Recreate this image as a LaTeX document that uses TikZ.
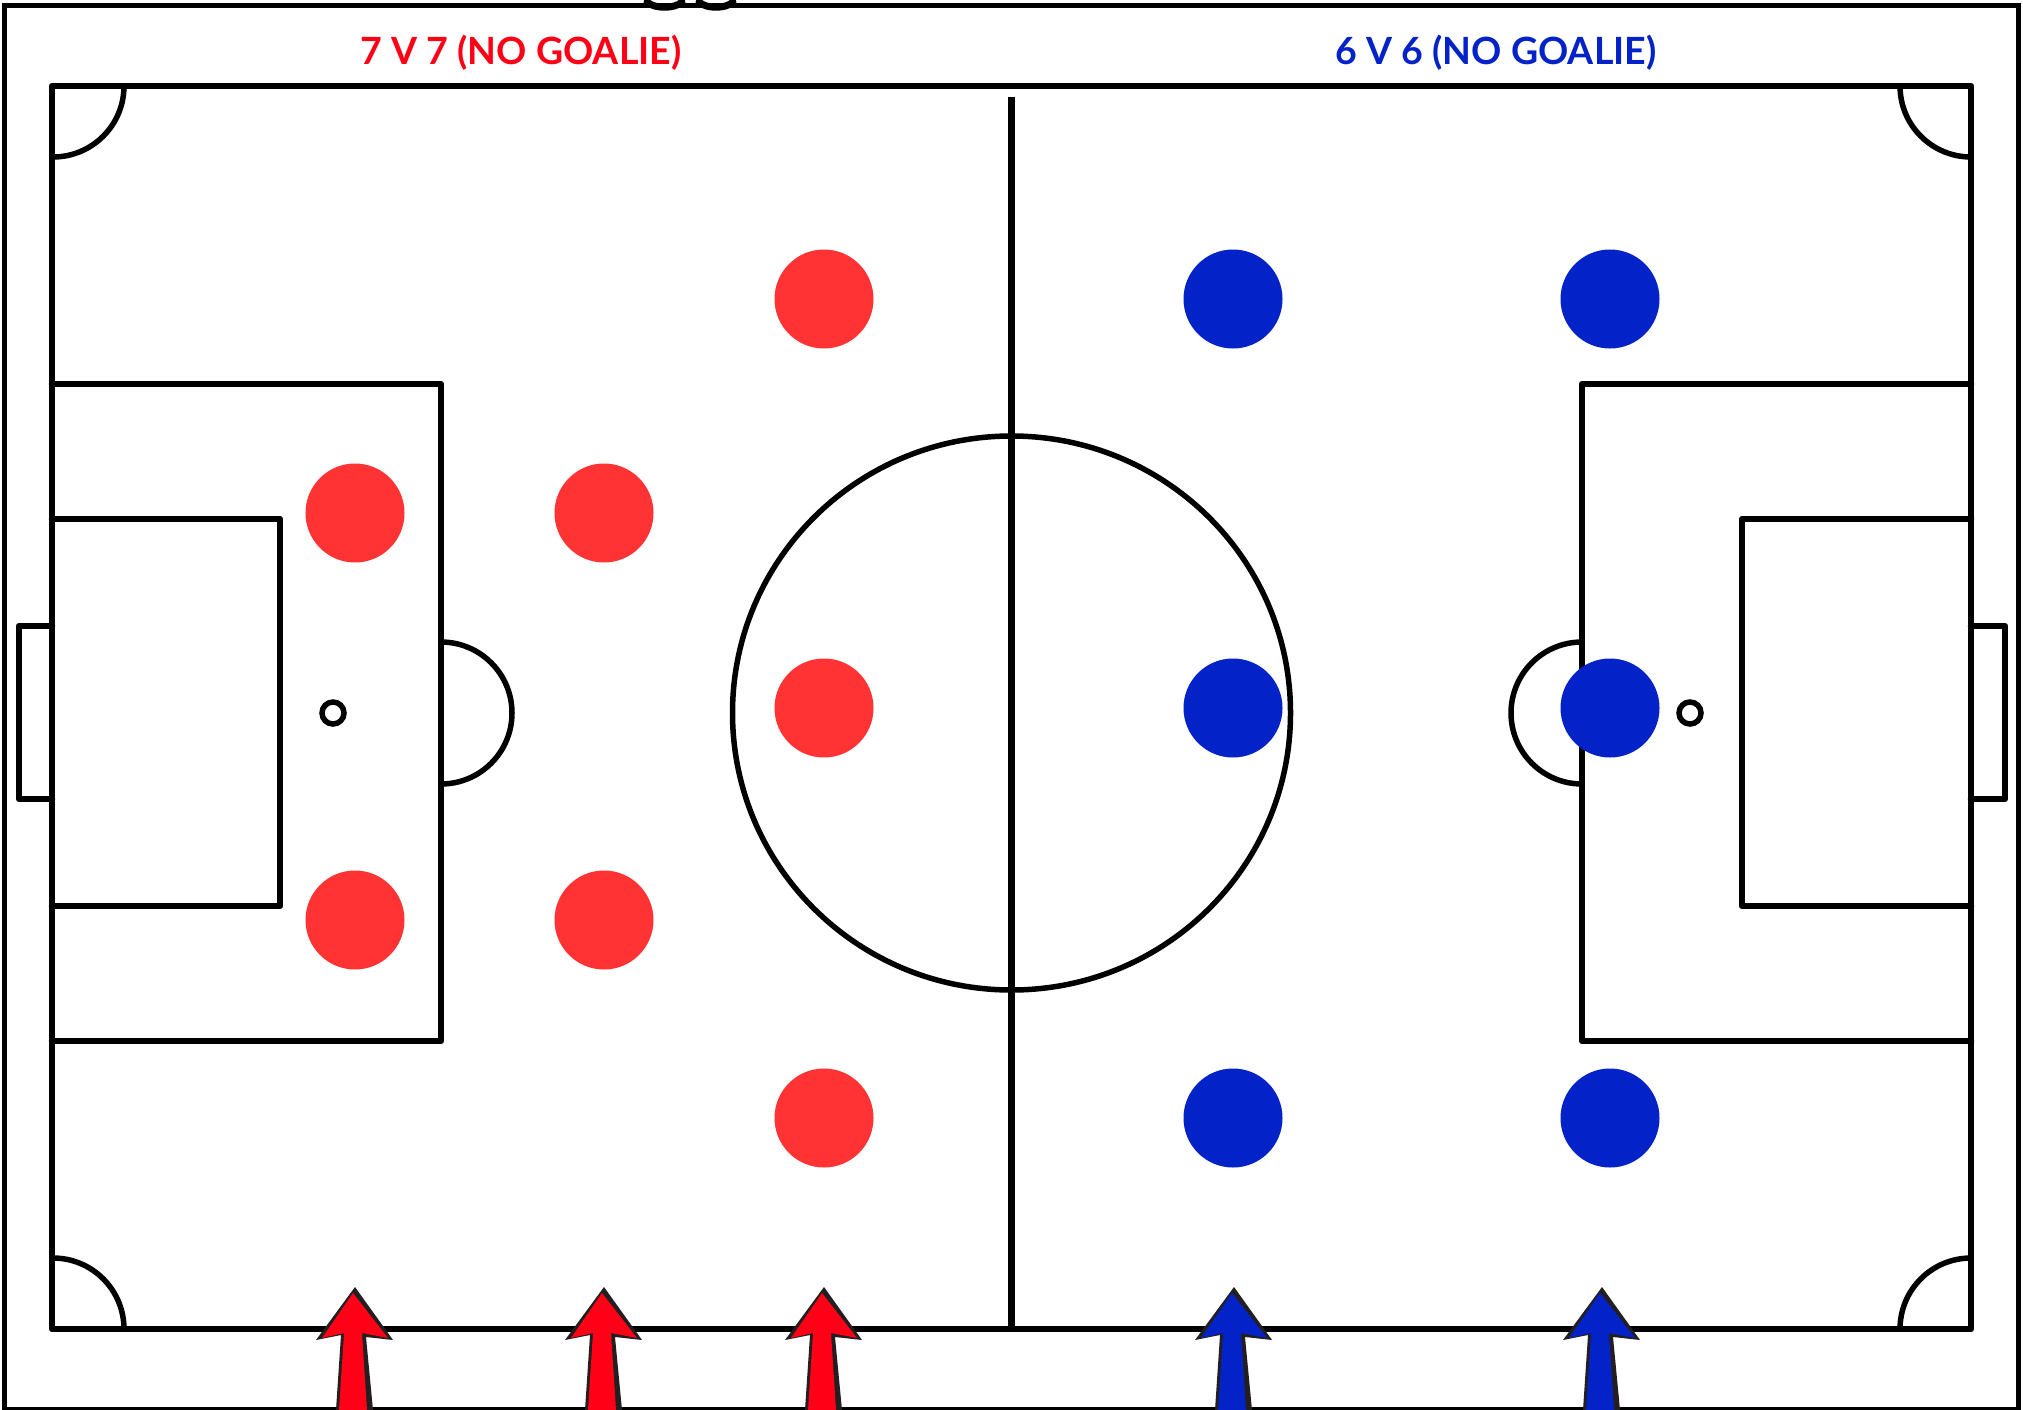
\documentclass[tikz,border=0pt]{standalone}
\usepackage{fontspec}
\setmainfont{Lato}[BoldFont={Lato Bold}]
\definecolor{teamred}{HTML}{FF3333}
\definecolor{arrowred}{HTML}{FF0016}
\definecolor{teamblue}{HTML}{0323C9}
\definecolor{arrowedge}{HTML}{231F20}
\tikzset{
  line/.style={draw=black,line width=6.5pt,line cap=round,line join=round},
  thin line/.style={draw=black,line width=5.5pt},
  redplayer/.style={circle,fill=teamred,minimum size=99pt,inner sep=0pt,draw=none},
  blueplayer/.style={circle,fill=teamblue,minimum size=99pt,inner sep=0pt,draw=none},
  heading/.style={font=\bfseries\fontsize{37.5}{37.5}\selectfont,inner sep=0pt,anchor=center}
}
\newcommand{\uparrowmark}[2]{%
  \begin{scope}[shift={(#1,0)}]
    \fill[arrowedge] (2,1287) -- (40,1340) -- (13,1337) -- (20,1410) -- (-17,1410) -- (-12,1335) -- (-37,1340) -- cycle;
    \fill[#2] (0,1293) -- (35,1338) -- (9,1333) -- (14,1410) -- (-14,1410) -- (-9,1333) -- (-31,1338) -- cycle;
  \end{scope}}
\begin{document}
\begin{tikzpicture}[x=1pt,y=-1pt]
\useasboundingbox (0,0) rectangle (2023,1410);
\clip (0,0) rectangle (2023,1410);
\fill[white] (0,0) rectangle (2023,1410);
% outer frame
\draw[draw=black,line width=5pt] (4,6) rectangle (2018,1409);
% clipped stray glyph bottoms at top
\draw[line,line width=7pt] (647,2) .. controls (654,9) and (675,9) .. (682,2);
\draw[line,line width=7pt] (699,2) .. controls (706,9) and (726,9) .. (733,2);
% field
\draw[line] (52,86) rectangle (1971,1329);
\draw[line,line cap=butt] (1011.5,97) -- (1011.5,1329);
\draw[thin line] (1011.5,713) ellipse [x radius=279,y radius=277];
% left side
\draw[line] (52,384) -- (441,384) -- (441,1041) -- (52,1041);
\draw[line] (52,519) -- (280,519) -- (280,906) -- (52,906);
\draw[line] (52,626) -- (19,626) -- (19,799) -- (52,799);
\draw[thin line] (441,784) arc[start angle=90,end angle=-90,radius=71];
\draw[thin line] (333,713) circle (11);
% right side
\draw[line] (1971,384) -- (1582,384) -- (1582,1041) -- (1971,1041);
\draw[line] (1971,519) -- (1742,519) -- (1742,906) -- (1971,906);
\draw[line] (1971,626) -- (2005,626) -- (2005,799) -- (1971,799);
\draw[thin line] (1582,784) arc[start angle=90,end angle=270,radius=71];
\draw[thin line] (1690,713) circle (11);
% corners
\draw[thin line] (124,86) arc[start angle=0,end angle=90,radius=71];
\draw[thin line] (1900,86) arc[start angle=180,end angle=90,radius=71];
\draw[thin line] (124,1329) arc[start angle=0,end angle=-90,radius=71];
\draw[thin line] (1900,1329) arc[start angle=180,end angle=270,radius=71];
% players
\node[redplayer] (r1) at (824,299) {};
\node[redplayer] (r2) at (355,513) {};
\node[redplayer] (r3) at (604,513) {};
\node[redplayer] (r4) at (824,708) {};
\node[redplayer] (r5) at (355,920) {};
\node[redplayer] (r6) at (604,920) {};
\node[redplayer] (r7) at (824,1118) {};
\node[blueplayer] (b1) at (1233,299) {};
\node[blueplayer] (b2) at (1610,299) {};
\node[blueplayer] (b3) at (1233,708) {};
\node[blueplayer] (b4) at (1610,708) {};
\node[blueplayer] (b5) at (1233,1118) {};
\node[blueplayer] (b6) at (1610,1118) {};
% headings
\node[heading,text=arrowred] (t1) at (521,53) {7 V 7 (NO GOALIE)};
\node[heading,text=teamblue] (t2) at (1496,53) {6 V 6 (NO GOALIE)};
% arrows
\uparrowmark{353}{arrowred}
\uparrowmark{602}{arrowred}
\uparrowmark{822}{arrowred}
\uparrowmark{1232}{teamblue}
\uparrowmark{1600}{teamblue}
\end{tikzpicture}
\end{document}
